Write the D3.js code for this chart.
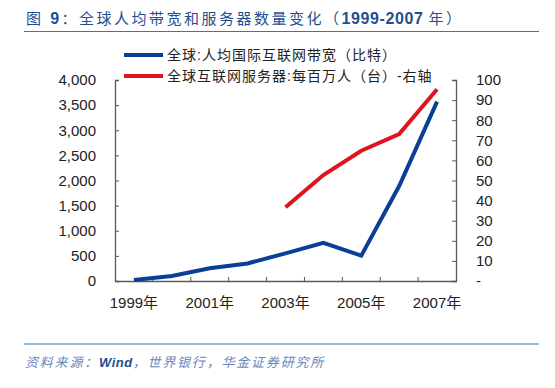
<!DOCTYPE html>
<html><head><meta charset="utf-8">
<script src="https://cdn.jsdelivr.net/npm/d3@7/dist/d3.min.js"></script>
<style>body{margin:0;background:#fff;}svg{display:block;}</style>
</head><body>
<script>
const years = ["1999","2000","2001","2002","2003","2004","2005","2006","2007"];
const bandwidth = [20, 100, 255, 350, 550, 760, 505, 1890, 3570];
const servers = [null, null, null, null, 36.7, 52.7, 64.8, 73.1, 95.4];
const leftTicks = [0,500,1000,1500,2000,2500,3000,3500,4000];
const rightTicks = [0,10,20,30,40,50,60,70,80,90,100];
const xLabelYears = ["1999","2001","2003","2005","2007"];
const seriesNames = ["全球:人均国际互联网带宽（比特）","全球互联网服务器:每百万人（台）-右轴"];

const W=555,H=388;
const svg=d3.select("body").append("svg").attr("width",W).attr("height",H);
const font="Liberation Sans, Arial, Noto Sans CJK SC, sans-serif";
const L=115,R=456,T=80,B=281;

// title
const title=svg.append("text").attr("x",26).attr("y",24).attr("fill","#1f4f8f")
  .style("font-family",font).style("font-size","15px").style("letter-spacing","2.5px");
title.append("tspan").text("图 ");
title.append("tspan").style("font-weight","bold").style("font-size","16px").text("9");
title.append("tspan").text("：全球人均带宽和服务器数量变化（");
title.append("tspan").style("font-weight","bold").style("font-size","16px").style("letter-spacing","0.6px").text("1999-2007 ");
title.append("tspan").text("年）");
svg.append("line").attr("x1",24).attr("x2",539).attr("y1",31.5).attr("y2",31.5).attr("stroke","#2b7bbf").attr("stroke-width",1.2);
svg.append("line").attr("x1",24).attr("x2",539).attr("y1",344).attr("y2",344).attr("stroke","#2b7bbf").attr("stroke-width",1.2);
const src=svg.append("text").attr("x",25).attr("y",367).attr("fill","#6a86b8")
  .style("font-family",font).style("font-size","13px").style("font-style","italic").style("letter-spacing","1.8px");
src.append("tspan").text("资料来源：");
src.append("tspan").attr("fill","#1f4f8f").style("font-weight","bold").style("letter-spacing","0.5px").text("Wind");
src.append("tspan").text("，世界银行，华金证券研究所");

const x=d3.scaleBand().domain(years).range([L,R]);
const yL=d3.scaleLinear().domain([0,4000]).range([B,T]);
const yR=d3.scaleLinear().domain([0,100]).range([B,T]);
const axisColor="#595959";

const gL=svg.append("g").attr("transform",`translate(${L},0)`)
  .call(d3.axisLeft(yL).tickValues(leftTicks).tickSizeInner(-4).tickSizeOuter(-4).tickPadding(19).tickFormat(d3.format(",")));
const gR=svg.append("g").attr("transform",`translate(${R},0)`)
  .call(d3.axisRight(yR).tickValues(rightTicks).tickSizeInner(-4).tickSizeOuter(-4).tickPadding(20).tickFormat(d=>d===0?"-":d));
const gB=svg.append("g").attr("transform",`translate(0,${B})`)
  .call(d3.axisBottom(x).tickValues([]).tickSizeOuter(0));
const bounds=years.map(y=>x(y)).concat([R]);
svg.append("g").selectAll("line").data(bounds.slice(1,-1)).join("line")
  .attr("x1",d=>d).attr("x2",d=>d).attr("y1",B).attr("y2",B-4).attr("stroke",axisColor);
svg.append("g").selectAll("text").data(xLabelYears).join("text")
  .attr("x",d=>x(d)+x.bandwidth()/2).attr("y",B+27).attr("text-anchor","middle")
  .attr("fill","#222").style("font-family",font).style("font-size","15px").text(d=>d+"年");

[gL,gR,gB].forEach(g=>{
  g.selectAll("path").attr("stroke",axisColor).attr("stroke-width",1.3);
  g.selectAll("line").attr("stroke",axisColor);
  g.selectAll("text").attr("fill","#222").style("font-family",font).style("font-size","15px");
});

const cx=d=>x(d)+x.bandwidth()/2;
svg.append("path").datum(years.map((y,i)=>[y,bandwidth[i]]))
  .attr("fill","none").attr("stroke","#0a3f95").attr("stroke-width",4)
  .attr("d",d3.line().x(d=>cx(d[0])).y(d=>yL(d[1])));
svg.append("path").datum(years.map((y,i)=>[y,servers[i]]))
  .attr("fill","none").attr("stroke","#e0141e").attr("stroke-width",4)
  .attr("d",d3.line().defined(d=>d[1]!=null).x(d=>cx(d[0])).y(d=>yR(d[1])));

// legend
const legColors=["#0a3f95","#e0141e"];
seriesNames.forEach((n,i)=>{
  const y=55+i*21;
  svg.append("line").attr("x1",124).attr("x2",163).attr("y1",y).attr("y2",y).attr("stroke",legColors[i]).attr("stroke-width",4);
  svg.append("text").attr("x",167).attr("y",y+5).attr("fill","#222").style("font-family",font)
    .style("font-size","14px").style("letter-spacing","1px").text(n);
});
</script>
</body></html>
